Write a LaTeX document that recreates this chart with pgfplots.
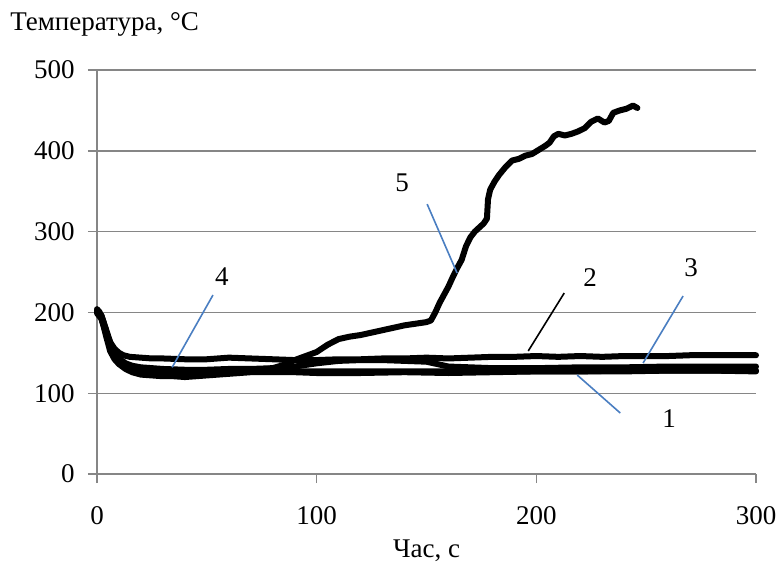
\documentclass[border=0pt]{standalone}
\usepackage{fontspec}
\setmainfont{Liberation Serif}
\usepackage{pgfplots}
\pgfplotsset{compat=1.18}
\definecolor{callout}{RGB}{74,126,193}
\definecolor{axgray}{RGB}{134,134,134}
\tikzset{curve/.style={black, line width=3pt, line join=round, line cap=round, mark=none}}

\begin{document}
\begin{tikzpicture}
\fontsize{13.5}{16}\selectfont
\begin{axis}[
  scale only axis,
  width=329.5pt, height=202pt,
  xmin=0, xmax=300, ymin=0, ymax=500,
  xtick={0,100,200,300}, ytick={0,100,...,500},
  axis x line*=bottom, axis y line*=left,
  axis line style={axgray, line width=0.7pt},
  tick style={axgray, line width=0.7pt},
  major tick length=4.5pt, tick align=outside,
  ymajorgrids, grid style={axgray, line width=0.7pt},
  /pgf/number format/assume math mode=true,
  ticklabel style={font=\fontsize{13.5}{16}\selectfont},
  xticklabel style={inner sep=0pt, yshift=-11.8pt},
  yticklabel style={xshift=-2pt},
  clip=false,
]
% 2
\addplot[curve] coordinates {(0,204)(1,201)(2,196)(3,188)(4,178)(5,170)(6,163)(8,155)(10,150)(12,147)(15,145)(20,144)(25,143)(30,143)(40,142)(50,142)(60,144)(70,143)(80,142)(90,141)(100,141)(110,142)(120,142)(130,143)(140,143)(150,144)(160,143)(170,144)(180,145)(190,145)(200,146)(210,145)(220,146)(230,145)(240,146)(250,146)(260,146)(270,147)(280,147)(290,147)(300,147)};
% 4
\addplot[curve] coordinates {(0,200)(1,199)(2,193)(3,183)(4,172)(5,162)(6,152)(8,142)(10,136)(13,130)(16,126)(20,123)(25,122)(30,121)(35,121)(40,120)(45,121)(50,122)(55,123)(60,124)(65,125)(70,126)(80,126)(90,126)(100,125)(120,125)(140,126)(160,125)(180,126)(200,127)(220,127)(240,127)(260,128)(280,128)(300,128)};
% 1
\addplot[curve] coordinates {(0,202)(2,195)(4,178)(6,160)(8,148)(10,140)(13,134)(16,131)(20,129)(30,128)(40,127)(60,127)(80,127)(100,127)(120,127)(140,127)(160,127)(180,127)(200,127)(220,127)(240,128)(260,128)(280,128)(300,127)};
% 3
\addplot[curve] coordinates {(0,201)(2,196)(4,180)(6,163)(8,150)(10,143)(13,137)(16,134)(20,132)(30,130)(40,129)(50,129)(60,130)(70,130)(80,131)(90,133)(100,137)(110,140)(120,141)(130,141)(140,140)(150,139)(155,136)(160,133)(170,132)(180,131)(200,131)(220,132)(240,132)(260,133)(280,133)(300,133)};
% 5
\addplot[curve] coordinates {(0,199)(2,192)(4,175)(6,158)(8,146)(10,139)(13,133)(16,130)(20,128)(30,127)(40,126)(50,126)(60,127)(70,128)(75,129)(80,131)(85,135)(90,141)(95,146)(100,151)(105,160)(110,167)(115,170)(120,172)(125,175)(130,178)(135,181)(140,184)(145,186)(150,188)(152,190)(154,200)(156,212)(158,222)(160,232)(162,244)(164,255)(166,265)(168,282)(170,293)(172,300)(174,305)(176,310)(177.5,316)(178,340)(179,352)(181,362)(183,370)(186,380)(189,388)(192,390)(195,394)(198,396)(201,401)(204,406)(206,410)(208,418)(210,421)(213,419)(216,421)(219,424)(222,428)(225,436)(228,440)(231,435)(233,437)(235,447)(238,450)(241,452)(244,456)(246,453)};

% callouts
\draw[callout, line width=0.8pt] (34.2,132) -- (52.8,221.5);
\node at (axis cs:56.9,243.8) {4};
\draw[callout, line width=0.8pt] (163.9,248.8) -- (150.3,334);
\node at (axis cs:138.9,360) {5};
\draw[black, line width=0.8pt] (196.3,152.2) -- (212.7,224);
\node at (axis cs:224.5,242.6) {2};
\draw[callout, line width=0.8pt] (248.6,137.4) -- (266.8,220.3);
\node at (axis cs:270.5,255) {3};
\draw[callout, line width=0.8pt] (218.6,122.5) -- (238.2,75.5);
\node at (axis cs:260.5,68) {1};
\end{axis}
\node[anchor=west, inner sep=0pt] at ([shift={(-43.5pt,23pt)}]current axis.north west) {Температура, °C};
\node[inner sep=0pt] at ([yshift=-38.5pt]current axis.south) {Час, с};
\path (current axis.south west) ++(-48.5pt,-46.5pt) rectangle ([shift={(11.5pt,35pt)}]current axis.north east);
\end{tikzpicture}
\end{document}
